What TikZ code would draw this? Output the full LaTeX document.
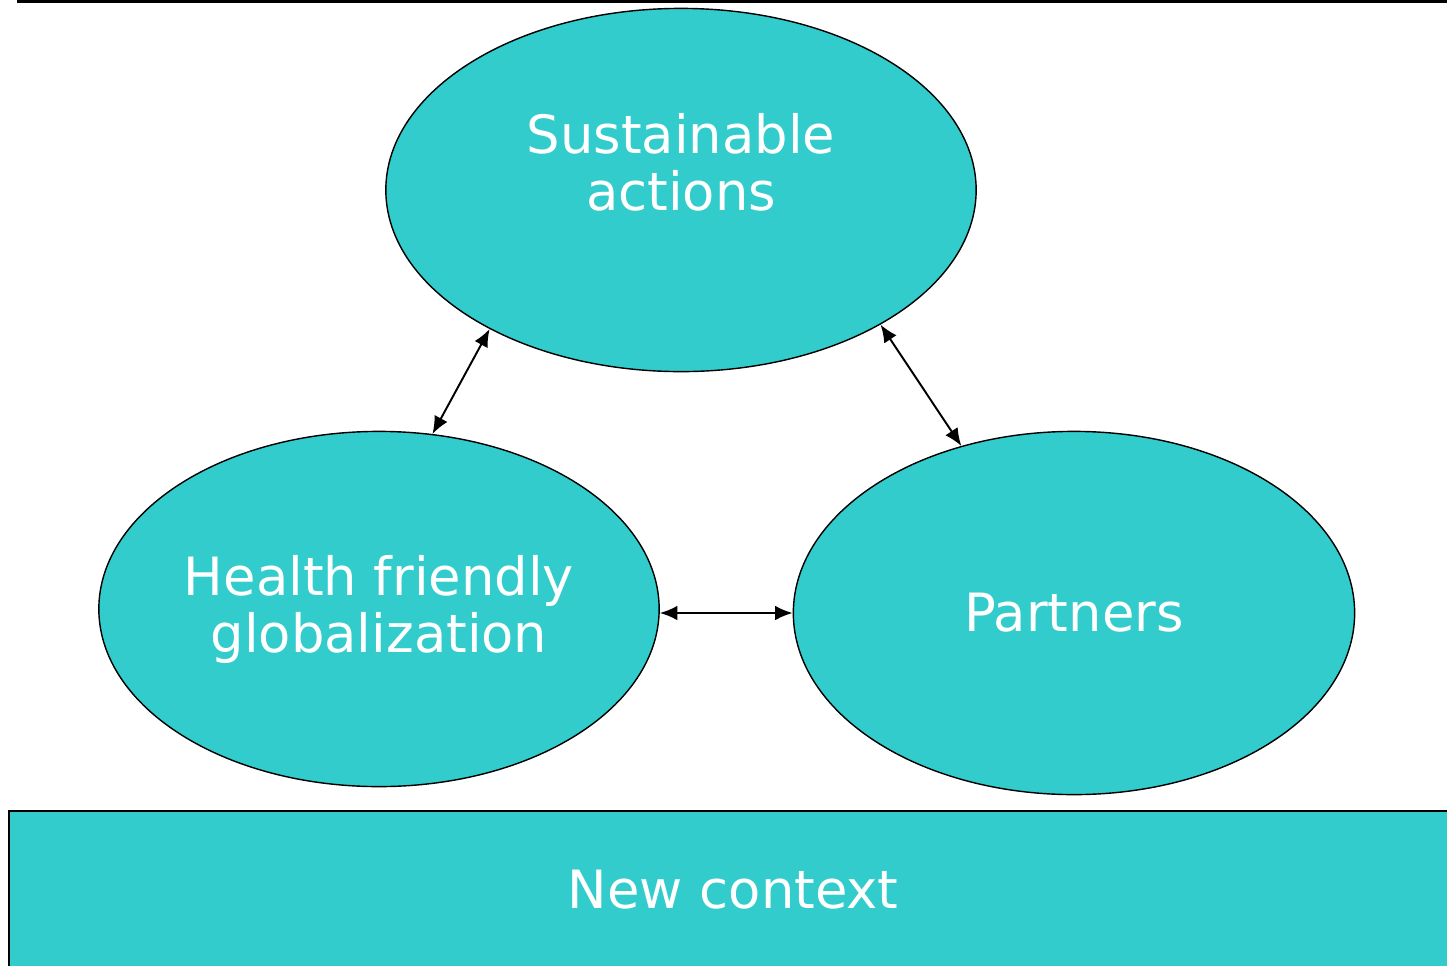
\documentclass[tikz,border=0pt]{standalone}
\usepackage{fontspec}
\setmainfont{DejaVu Sans}
\usetikzlibrary{shapes.geometric,arrows.meta}
\definecolor{bubblefill}{RGB}{51,204,204}
\tikzset{
  bubble/.style={ellipse, draw=black, fill=bubblefill, inner sep=0pt, line width=0.4pt,
    text=white, align=center, font=\fontsize{15}{16.2}\selectfont},
  link/.style={{Latex[length=5pt,width=4.2pt]}-{Latex[length=5pt,width=4.2pt]}, line width=0.55pt}
}
\begin{document}
\begin{tikzpicture}[x=0.01cm, y=-0.01cm]
\useasboundingbox (0,0) rectangle (1447,966);
\draw [black, line width=0.6pt] (17,1.5) -- (1447,1.5);
% the three ellipses
\node [bubble, minimum width=5.90cm, minimum height=3.63cm] (sa) at (681,190) {Sustainable\\actions\\\mbox{}};
\node [bubble, minimum width=5.60cm, minimum height=3.55cm] (hg) at (379,609) {Health friendly\\globalization};
\node [bubble, minimum width=5.61cm, minimum height=3.63cm] (pa) at (1074,613) {Partners};
% bottom band
\node [draw=black, fill=bubblefill, line width=0.5pt, anchor=north west, minimum width=14.48cm, minimum height=1.58cm,
  text=white, font=\fontsize{15}{16.2}\selectfont] (nc) at (8,810) {New context};
% links
\draw [link] (sa.216) -- (hg.73);
\draw [link] (sa.326) -- (pa.124);
\draw [link] (pa.west -| hg.east) -- (pa.west);
\end{tikzpicture}
\end{document}
